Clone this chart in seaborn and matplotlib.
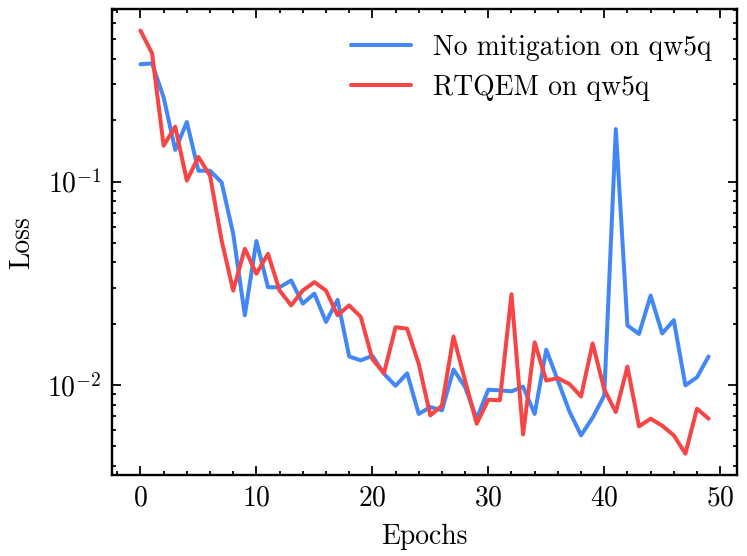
import numpy as np
import pandas as pd
import seaborn as sns
import matplotlib
matplotlib.use("Agg")
import matplotlib.pyplot as plt

# loss per epoch
epochs = list(range(50))
no_mitigation = [0.377, 0.381, 0.259, 0.143, 0.196, 0.113, 0.113, 0.099, 0.0553, 0.022,
                 0.051, 0.0302, 0.0302, 0.0326, 0.0251, 0.0281, 0.0204, 0.0262, 0.0138, 0.0132,
                 0.0139, 0.01135, 0.0099, 0.0114, 0.0072, 0.00778, 0.0075, 0.0119, 0.00976, 0.00682,
                 0.00947, 0.0094, 0.0093, 0.0098, 0.0072, 0.0149, 0.0105, 0.0074, 0.00565, 0.0069,
                 0.00887, 0.181, 0.0196, 0.0178, 0.0275, 0.0179, 0.0208, 0.00995, 0.0109, 0.0138]
rtqem = [0.552, 0.427, 0.150, 0.186, 0.101, 0.132, 0.107, 0.0513, 0.0291, 0.0467,
         0.0352, 0.0441, 0.0291, 0.0246, 0.0291, 0.032, 0.0291, 0.022, 0.0246, 0.0216,
         0.0134, 0.0114, 0.0192, 0.0189, 0.0127, 0.00708, 0.0079, 0.0173, 0.0105, 0.00644,
         0.00845, 0.0084, 0.0279, 0.00571, 0.0162, 0.0105, 0.0108, 0.0101, 0.00877, 0.0160,
         0.0095, 0.00735, 0.0123, 0.00625, 0.00682, 0.0063, 0.00565, 0.00459, 0.00764, 0.00682]
labels = ["No mitigation on qw5q", "RTQEM on qw5q"]
colors = ["#4287f5", "#f74545"]

df = pd.DataFrame({
    "Epochs": epochs * 2,
    "Loss": no_mitigation + rtqem,
    "run": [labels[0]] * len(epochs) + [labels[1]] * len(epochs),
})

sns.set_theme(style="ticks")
plt.rcParams.update({
    "font.family": "serif",
    "font.serif": ["cmr10", "DejaVu Serif"],
    "mathtext.fontset": "cm",
    "axes.formatter.use_mathtext": True,
    "font.size": 9.3,
    "axes.labelsize": 9.3,
    "xtick.labelsize": 9.3,
    "ytick.labelsize": 9.3,
    "legend.fontsize": 9.3,
    "axes.edgecolor": "black",
    "xtick.color": "black",
    "ytick.color": "black",
    "text.color": "black",
    "axes.labelcolor": "black",
    "axes.linewidth": 0.8,
    "xtick.direction": "in",
    "ytick.direction": "in",
    "xtick.top": True,
    "ytick.right": True,
    "xtick.minor.visible": True,
    "ytick.minor.visible": True,
    "xtick.major.size": 3.0,
    "ytick.major.size": 3.0,
    "xtick.minor.size": 1.5,
    "ytick.minor.size": 1.5,
    "xtick.major.width": 0.6,
    "ytick.major.width": 0.6,
    "xtick.minor.width": 0.6,
    "ytick.minor.width": 0.6,
})

dpi = 214
fig, ax = plt.subplots(figsize=(747 / dpi, 556 / dpi), dpi=dpi)
fig.subplots_adjust(left=0.150, right=0.9866, top=0.983, bottom=0.146)

sns.lineplot(data=df, x="Epochs", y="Loss", hue="run",
             palette=dict(zip(labels, colors)), linewidth=1.35, ax=ax)
ax.set_yscale("log")
ax.set_xticks([0, 10, 20, 30, 40, 50])
ax.legend(frameon=False, loc="upper right", handlelength=2.2)

fig.savefig("out.png", dpi=dpi)
